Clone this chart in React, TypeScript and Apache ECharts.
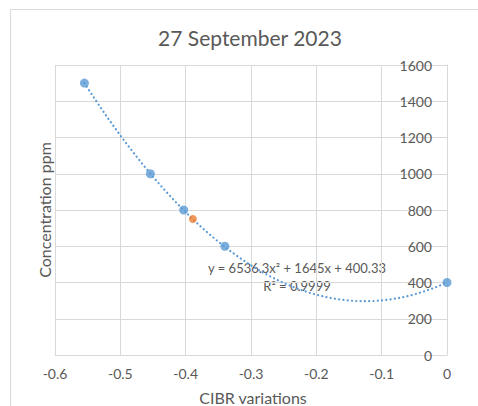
import React, { useEffect, useRef } from "react";
import * as echarts from "echarts";

// Measured samples (CIBR variation vs concentration)
const cibrValues = [-0.555, -0.454, -0.403, -0.34, 0];
const concentrationPpm = [1500, 1000, 800, 600, 400];

// Unknown sample
const unknownCibr = [-0.389];
const unknownPpm = [750];

// Quadratic fit coefficients: y = a x^2 + b x + c
const fitA = 6536.3;
const fitB = 1645;
const fitC = 400.33;
const fitLabel = "y = 6536.3x\u00B2 + 1645x + 400.33";
const r2Label = "R\u00B2 = 0.9999";

const titleText = "27 September 2023";
const xTitle = "CIBR variations";
const yTitle = "Concentration ppm";

const FONT = "Lato, 'Liberation Sans', sans-serif";
const TEXT = "#595959";
const GRID = "#D9D9D9";

export default function App() {
  const ref = useRef<HTMLDivElement>(null);

  useEffect(() => {
    if (!ref.current) return;
    const chart = echarts.init(ref.current, undefined, { renderer: "svg" });

    const samples = cibrValues.map((x, i) => [x, concentrationPpm[i]]);
    const unknown = unknownCibr.map((x, i) => [x, unknownPpm[i]]);

    // Trendline drawn from the fitted equation across the sample range
    const x0 = Math.min(...cibrValues);
    const x1 = Math.max(...cibrValues);
    const steps = 120;
    const trend: number[][] = [];
    for (let i = 0; i <= steps; i++) {
      const x = x0 + ((x1 - x0) * i) / steps;
      trend.push([x, fitA * x * x + fitB * x + fitC]);
    }

    chart.setOption({
      animation: false,
      backgroundColor: "#ffffff",
      grid: { left: 55, right: 31, top: 65, bottom: 51, containLabel: false },
      xAxis: {
        type: "value",
        min: -0.6,
        max: 0,
        interval: 0.1,
        axisLine: { show: true, onZero: false, lineStyle: { color: GRID, width: 1 } },
        axisTick: { show: false },
        splitLine: { show: true, lineStyle: { color: GRID, width: 1 } },
        axisLabel: {
          color: TEXT,
          fontFamily: FONT,
          fontSize: 14,
          margin: 11,
          formatter: (v: number) => (Math.abs(v) < 1e-9 ? "0" : String(Math.round(v * 10) / 10)),
        },
      },
      yAxis: {
        type: "value",
        position: "right",
        min: 0,
        max: 1600,
        interval: 200,
        axisLine: { show: true, lineStyle: { color: GRID, width: 1 } },
        axisTick: { show: false },
        splitLine: { show: true, lineStyle: { color: GRID, width: 1 } },
        axisLabel: {
          inside: true,
          color: TEXT,
          fontFamily: FONT,
          fontSize: 14,
          margin: 15,
          formatter: (v: number) => String(v),
        },
      },
      series: [
        {
          type: "line",
          data: trend,
          showSymbol: false,
          symbol: "none",
          smooth: false,
          lineStyle: { color: "#5B9BD5", width: 2.2, type: [0.1, 4.2], cap: "round" },
          z: 2,
          silent: true,
        },
        {
          type: "scatter",
          data: samples,
          symbol: "circle",
          symbolSize: 9,
          itemStyle: { color: "#5B9BD5" },
          z: 3,
        },
        {
          type: "scatter",
          data: unknown,
          symbol: "circle",
          symbolSize: 8,
          itemStyle: { color: "#ED7D31" },
          z: 3,
        },
      ],
      graphic: [
        {
          type: "rect",
          shape: { x: 10.5, y: 9.5, width: 600, height: 600 },
          style: { fill: "none", stroke: GRID, lineWidth: 1 },
          silent: true,
          z: -1,
        },
        {
          type: "text",
          x: 250,
          y: 37,
          style: {
            text: titleText,
            fill: TEXT,
            font: `21px ${FONT}`,
            textAlign: "center",
            textVerticalAlign: "middle",
          },
        },
        {
          type: "text",
          x: 253,
          y: 397,
          style: {
            text: xTitle,
            fill: TEXT,
            font: `16px ${FONT}`,
            textAlign: "center",
            textVerticalAlign: "middle",
          },
        },
        {
          type: "text",
          x: 44,
          y: 210,
          rotation: Math.PI / 2,
          style: {
            text: yTitle,
            fill: TEXT,
            font: `16px ${FONT}`,
            textAlign: "center",
            textVerticalAlign: "middle",
          },
        },
        {
          type: "text",
          x: 297,
          y: 268,
          style: {
            text: fitLabel,
            fill: TEXT,
            font: `13px ${FONT}`,
            textAlign: "center",
            textVerticalAlign: "middle",
          },
        },
        {
          type: "text",
          x: 297,
          y: 286,
          style: {
            text: r2Label,
            fill: TEXT,
            font: `13px ${FONT}`,
            textAlign: "center",
            textVerticalAlign: "middle",
          },
        },
      ],
    });

    return () => chart.dispose();
  }, []);

  return (
    <div
      ref={ref}
      style={{ position: "fixed", left: 0, top: 0, width: 478, height: 406, background: "#fff" }}
    />
  );
}
